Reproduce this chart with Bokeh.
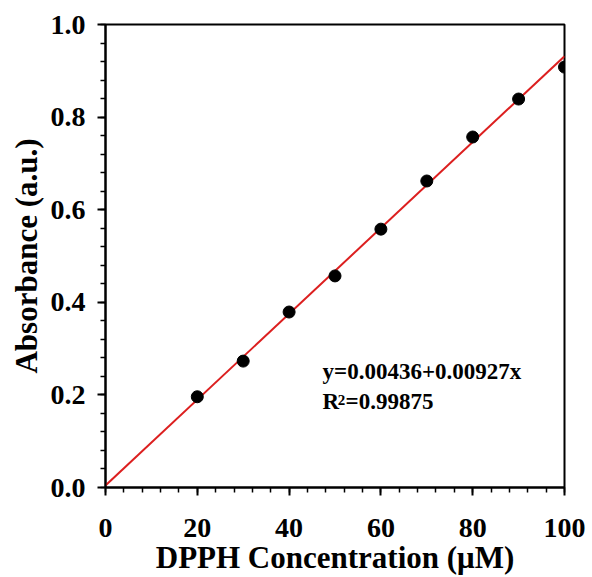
from bokeh.plotting import figure
from bokeh.models import SingleIntervalTicker, NumeralTickFormatter, Label, Range1d
from bokeh.embed import file_html
from bokeh.resources import INLINE

# data
concentration = [20, 30, 40, 50, 60, 70, 80, 90, 100]
absorbance = [0.196, 0.273, 0.379, 0.457, 0.558, 0.662, 0.757, 0.839, 0.908]
fit_intercept = 0.00436
fit_slope = 0.00927
fit_x = [0, 100]
fit_y = [fit_intercept + fit_slope * v for v in fit_x]
eq_text = "y=0.00436+0.00927x"
r2_value = "=0.99875"
x_title = "DPPH Concentration (\u03bcM)"
y_title = "Absorbance (a.u.)"

FONT = "Liberation Serif"

p = figure(width=592, height=577, output_backend="svg", toolbar_location=None,
           x_range=Range1d(0, 100), y_range=Range1d(0, 1.0),
           min_border_left=105, min_border_right=28, min_border_top=24, min_border_bottom=90)
p.grid.visible = False
p.outline_line_color = "black"
p.outline_line_width = 2
p.background_fill_color = "white"
p.border_fill_color = "white"

p.line(fit_x, fit_y, line_color="#dc1f1f", line_width=2)
p.scatter(concentration, absorbance, size=12, fill_color="black", line_color="black")

p.xaxis.ticker = SingleIntervalTicker(interval=20, num_minor_ticks=5)
p.yaxis.ticker = SingleIntervalTicker(interval=0.2, num_minor_ticks=5)
p.xaxis.formatter = NumeralTickFormatter(format="0")
p.yaxis.formatter = NumeralTickFormatter(format="0.0")

for ax in (p.xaxis[0], p.yaxis[0]):
    ax.axis_line_width = 2
    ax.axis_line_color = "black"
    ax.major_tick_in = 0
    ax.major_tick_out = 8
    ax.minor_tick_in = 0
    ax.minor_tick_out = 5
    ax.major_tick_line_width = 2
    ax.minor_tick_line_width = 1.5
    ax.major_tick_line_color = "black"
    ax.minor_tick_line_color = "black"
    ax.major_label_text_font = FONT
    ax.major_label_text_font_style = "bold"
    ax.major_label_text_font_size = "28px"
    ax.major_label_text_color = "black"
    ax.axis_label_text_font = FONT
    ax.axis_label_text_font_style = "bold"
    ax.axis_label_text_font_size = "31px"
    ax.axis_label_text_color = "black"

p.xaxis.axis_label = x_title
p.yaxis.axis_label = y_title
p.xaxis.major_label_standoff = 23
p.yaxis.major_label_standoff = 12
p.xaxis.axis_label_standoff = 0
p.yaxis.axis_label_standoff = 4

common = dict(text_font=FONT, text_font_style="bold", text_color="black")
p.add_layout(Label(x=47.3, y=0.224, text=eq_text, text_font_size="23px", **common))
p.add_layout(Label(x=47.3, y=0.159, text="R", text_font_size="23px", **common))
p.add_layout(Label(x=50.6, y=0.179, text="2", text_font_size="15px", **common))
p.add_layout(Label(x=52.3, y=0.159, text=r2_value, text_font_size="23px", **common))

open("out.html", "w").write(file_html(p, INLINE))
